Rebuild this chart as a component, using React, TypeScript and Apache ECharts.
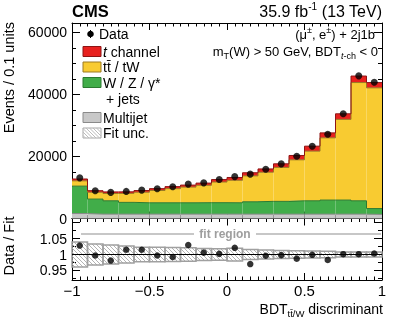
import React, { useEffect, useRef } from "react";
import * as echarts from "echarts";

const FONT = "'Liberation Sans', Arial, Helvetica, sans-serif";

// bin edges of BDT_tt/W discriminant
const binEdges = [-1, -0.9, -0.8, -0.7, -0.6, -0.5, -0.4, -0.3, -0.2, -0.1, 0, 0.1, 0.2, 0.3, 0.4, 0.5, 0.6, 0.7, 0.8, 0.9, 1];
const binCenters = [-0.95, -0.85, -0.75, -0.65, -0.55, -0.45, -0.35, -0.25, -0.15, -0.05, 0.05, 0.15, 0.25, 0.35, 0.45, 0.55, 0.65, 0.75, 0.85, 0.95];

// events / 0.1 units
const dataCounts = [13100, 8930, 8410, 8730, 9150, 9570, 10210, 11080, 11490, 12580, 13500, 14290, 15890, 17600, 20060, 23270, 27130, 33770, 45970, 43920];
const multijet = [1600, 1400, 1400, 1400, 1400, 1400, 1400, 1400, 1400, 1400, 1400, 1400, 1400, 1400, 1400, 1400, 1400, 1400, 1400, 1300];
const wzJets = [8830, 4860, 4310, 3800, 3670, 3670, 3670, 3670, 3700, 3700, 3670, 3990, 4120, 4120, 4310, 4310, 4540, 4540, 4310, 1900];
const ttbarTW = [1700, 2200, 2350, 2900, 3400, 3950, 4550, 5050, 5600, 6650, 7250, 8350, 9400, 10950, 13200, 16000, 20050, 26000, 38100, 38900];
const tChannel = [600, 500, 500, 500, 550, 600, 650, 650, 700, 800, 900, 1000, 1050, 1150, 1400, 1600, 1600, 1800, 2100, 1700];

// Data / Fit
const ratioValues = [1.028, 0.997, 0.981, 1.015, 1.015, 0.997, 0.992, 1.030, 1.006, 1.002, 1.021, 0.970, 0.996, 0.998, 0.987, 0.999, 0.983, 1.001, 1.001, 1.003];
const fitUncRel = [0.039, 0.033, 0.030, 0.027, 0.023, 0.023, 0.022, 0.021, 0.019, 0.018, 0.020, 0.016, 0.014, 0.0125, 0.012, 0.011, 0.010, 0.008, 0.008, 0.008];

const xTickLabels = ["−1", "−0.5", "0", "0.5", "1"];
const ratioMajorTicks = [0.95, 1, 1.05, 1.1];
const ratioLabelTicks = [0.95, 1, 1.05];
const ratioMinorTicks = [0.925, 0.975, 1.025, 1.075];

const layerNames = ["Multijet", "W / Z / γ* + jets", "tt̄ / tW", "t channel"];
const layerFill = ["#c8c8c8", "#41ad49", "#f8cb31", "#e8211f"];
const layerEdge = ["#8a8a8a", "#2b7a30", "#9c7b23", "#8e1414"];

function hatchLines(x0: number, y0: number, x1: number, y1: number, step: number, color: string) {
  const out: any[] = [];
  const cMin = x0 - y1;
  const cMax = x1 - y0;
  for (let c = Math.ceil(cMin / step) * step; c <= cMax; c += step) {
    const xa = Math.max(x0, y0 + c);
    const xb = Math.min(x1, y1 + c);
    if (xb > xa) {
      out.push({
        type: "line",
        shape: { x1: xa, y1: xa - c, x2: xb, y2: xb - c },
        style: { stroke: color, lineWidth: 1 },
        silent: true,
      });
    }
  }
  return out;
}

export default function App() {
  const ref = useRef<HTMLDivElement>(null);
  useEffect(() => {
    const chart = echarts.init(ref.current!, null, { renderer: "svg" });

    const layers = [multijet, wzJets, ttbarTW, tChannel];
    const cum: number[][] = [];
    layers.forEach((arr, k) => {
      cum.push(arr.map((v, i) => (k === 0 ? 0 : cum[k - 1][i]) + v));
    });

    const tickStyle = { color: "#000", width: 1 };
    const makeX = (gridIndex: number, position: string, labels: boolean) => ({
      type: "value",
      gridIndex,
      position,
      min: -1,
      max: 1,
      interval: 0.5,
      axisLine: { show: true, onZero: false, lineStyle: { color: "#000", width: 1 } },
      axisTick: { show: true, inside: true, length: 7, lineStyle: tickStyle },
      minorTick: { show: true, splitNumber: 10, length: 3.5, lineStyle: tickStyle },
      splitLine: { show: false },
      minorSplitLine: { show: false },
      axisLabel: {
        show: labels,
        fontSize: 15,
        fontFamily: FONT,
        color: "#000",
        margin: 3,
        showMinLabel: true,
        showMaxLabel: true,
        formatter: (v: number) => xTickLabels[Math.round((v + 1) / 0.5)],
      },
    });

    const makeMainY = (position: string, labels: boolean) => ({
      type: "value",
      gridIndex: 0,
      position,
      min: 0,
      max: 63000,
      interval: 20000,
      axisLine: { show: true, onZero: false, lineStyle: { color: "#000", width: 1 } },
      axisTick: { show: true, inside: true, length: 8, lineStyle: tickStyle },
      minorTick: { show: true, splitNumber: 4, length: 4, lineStyle: tickStyle },
      splitLine: { show: false },
      minorSplitLine: { show: false },
      axisLabel: {
        show: labels,
        fontSize: 14,
        fontFamily: FONT,
        color: "#000",
        margin: 5,
        formatter: (v: number) => String(v),
      },
    });

    const makeRatioY = (position: string, labels: boolean, minor: boolean) => ({
      type: "value",
      gridIndex: 1,
      position,
      min: 0.92,
      max: 1.113,
      axisLine: { show: !minor, onZero: false, lineStyle: { color: "#000", width: 1 } },
      axisTick: {
        show: true,
        inside: true,
        length: minor ? 4 : 8,
        customValues: minor ? ratioMinorTicks : ratioMajorTicks,
        lineStyle: tickStyle,
      },
      splitLine: { show: false },
      axisLabel: {
        show: labels,
        customValues: ratioLabelTicks,
        fontSize: 14,
        fontFamily: FONT,
        color: "#000",
        margin: 5,
        formatter: (v: number) => String(Math.round(v * 100) / 100),
      },
    });

    const series: any[] = [];
    layers.forEach((arr, k) => {
      series.push({
        type: "custom",
        name: layerNames[k],
        xAxisIndex: 0,
        yAxisIndex: 0,
        z: 1,
        silent: true,
        encode: { x: [0, 1], y: [2, 3] },
        data: arr.map((_, i) => [binEdges[i], binEdges[i + 1], k === 0 ? 0 : cum[k - 1][i], cum[k][i]]),
        renderItem: (_p: any, api: any) => {
          const a = api.coord([api.value(0), api.value(3)]);
          const b = api.coord([api.value(1), api.value(2)]);
          return {
            type: "rect",
            shape: { x: a[0], y: a[1], width: b[0] - a[0], height: b[1] - a[1] },
            style: { fill: layerFill[k], stroke: null },
          };
        },
      });
    });
    layers.forEach((_, k) => {
      const pts = cum[k].map((v, i) => [binEdges[i], v]);
      pts.push([binEdges[20], cum[k][19]]);
      series.push({
        type: "line",
        xAxisIndex: 0,
        yAxisIndex: 0,
        step: "end",
        symbol: "none",
        z: 2,
        silent: true,
        lineStyle: { color: layerEdge[k], width: 1 },
        data: pts,
      });
    });
    series.push({
      type: "scatter",
      name: "Data",
      xAxisIndex: 0,
      yAxisIndex: 0,
      symbol: "circle",
      symbolSize: 7,
      z: 5,
      itemStyle: { color: "#000" },
      data: binCenters.map((x, i) => [x, dataCounts[i]]),
    });

    // ratio panel
    series.push({
      type: "custom",
      name: "Fit unc.",
      xAxisIndex: 2,
      yAxisIndex: 2,
      z: 2,
      silent: true,
      encode: { x: [0, 1], y: [2, 3] },
      data: fitUncRel.map((u, i) => [binEdges[i], binEdges[i + 1], 1 - u, 1 + u]),
      renderItem: (_p: any, api: any) => {
        const a = api.coord([api.value(0), api.value(3)]);
        const b = api.coord([api.value(1), api.value(2)]);
        const children = hatchLines(a[0], a[1], b[0], b[1], 4, "#b3b3b3");
        children.push({
          type: "rect",
          shape: { x: a[0], y: a[1], width: b[0] - a[0], height: b[1] - a[1] },
          style: { fill: "none", stroke: "#a0a0a0", lineWidth: 1.5 },
        });
        return { type: "group", children };
      },
    });
    series.push({
      type: "line",
      xAxisIndex: 2,
      yAxisIndex: 2,
      symbol: "none",
      z: 3,
      silent: true,
      lineStyle: { color: "#000", width: 1 },
      data: [[-1, 1], [1, 1]],
    });
    series.push({
      type: "scatter",
      xAxisIndex: 2,
      yAxisIndex: 2,
      symbol: "circle",
      symbolSize: 6.5,
      z: 5,
      itemStyle: { color: "#000" },
      data: binCenters.map((x, i) => [x, ratioValues[i]]),
    });

    const txt = (x: number, y: number, text: string, extra: any = {}) => ({
      type: "text",
      x,
      y,
      silent: true,
      style: {
        text,
        fontSize: 14,
        fontFamily: FONT,
        fill: "#000",
        align: "left",
        verticalAlign: "middle",
        ...extra,
      },
    });

    const legendRows = [51.5, 67, 82.5, 117.5];
    const legendLayerOrder = [3, 2, 1, 0];
    const graphic: any[] = [];

    // header
    graphic.push(txt(72, 11, "CMS", { fontSize: 16.5, fontWeight: "bold" }));
    graphic.push(
      txt(382, 11, "35.9 fb{sup|-1} (13 TeV)", {
        fontSize: 16,
        align: "right",
        lineHeight: 20,
        rich: { sup: { fontSize: 10, fontFamily: FONT, lineHeight: 9, verticalAlign: "top" } },
      })
    );

    // legend
    graphic.push({
      type: "line",
      shape: { x1: 90.5, y1: 30, x2: 90.5, y2: 38 },
      style: { stroke: "#000", lineWidth: 1 },
      silent: true,
    });
    graphic.push({ type: "circle", shape: { cx: 90.5, cy: 34, r: 3.3 }, style: { fill: "#000" }, silent: true });
    graphic.push(txt(99, 34, "Data"));
    legendRows.forEach((y, r) => {
      const k = legendLayerOrder[r];
      graphic.push({
        type: "rect",
        shape: { x: 83, y: y - 5, width: 18, height: 10 },
        style: { fill: layerFill[k], stroke: layerEdge[k], lineWidth: 1 },
        silent: true,
      });
    });
    graphic.push(
      txt(103, legendRows[0], "{it|t} channel", {
        rich: { it: { fontStyle: "italic", fontSize: 14, fontFamily: FONT } },
      })
    );
    graphic.push(txt(103, legendRows[1], "tt\u0304 / tW"));
    graphic.push(txt(103, legendRows[2], "W / Z / γ*"));
    graphic.push(txt(106, 98.5, "+ jets"));
    graphic.push(txt(103, legendRows[3], "Multijet"));
    // fit unc. legend box
    graphic.push({
      type: "rect",
      shape: { x: 83, y: 128, width: 18, height: 10 },
      style: { fill: "#fff", stroke: "#a8a8a8", lineWidth: 1 },
      silent: true,
    });
    hatchLines(83, 128, 101, 138, 3.5, "#bcbcbc").forEach((l) => graphic.push(l));
    graphic.push(txt(103, 133, "Fit unc."));

    // right annotations
    graphic.push(
      txt(375, 34, "(μ{sup|±}, e{sup|±}) + 2j1b", {
        fontSize: 13,
        align: "right",
        lineHeight: 18,
        rich: { sup: { fontSize: 9, fontFamily: FONT, lineHeight: 9, verticalAlign: "top" } },
      })
    );
    graphic.push(
      txt(378, 51.5, "m{sub|T}(W) > 50 GeV, BDT{subi|t}{sub|-ch} < 0", {
        fontSize: 13,
        align: "right",
        lineHeight: 18,
        rich: {
          sub: { fontSize: 9, fontFamily: FONT, lineHeight: 9, verticalAlign: "bottom" },
          subi: { fontSize: 9, fontFamily: FONT, fontStyle: "italic", lineHeight: 9, verticalAlign: "bottom" },
        },
      })
    );

    // fit region marker
    graphic.push({ type: "line", shape: { x1: 81, y1: 234, x2: 194, y2: 234 }, style: { stroke: "#b4b4b4", lineWidth: 1.5 }, silent: true });
    graphic.push({ type: "line", shape: { x1: 256, y1: 234, x2: 381, y2: 234 }, style: { stroke: "#b4b4b4", lineWidth: 1.5 }, silent: true });
    graphic.push(txt(225, 234, "fit region", { fontSize: 12, fontWeight: "bold", fill: "#9e9e9e", align: "center" }));

    // axis titles
    graphic.push({
      type: "text",
      x: 9,
      y: 22,
      rotation: Math.PI / 2,
      silent: true,
      style: { text: "Events / 0.1 units", fontSize: 14.5, fontFamily: FONT, fill: "#000", align: "right", verticalAlign: "middle" },
    });
    graphic.push({
      type: "text",
      x: 9,
      y: 246,
      rotation: Math.PI / 2,
      silent: true,
      style: { text: "Data / Fit", fontSize: 14.5, fontFamily: FONT, fill: "#000", align: "center", verticalAlign: "middle" },
    });
    graphic.push(
      txt(383, 309, "BDT{sub|tt\u0304/W} discriminant", {
        fontSize: 14,
        align: "right",
        lineHeight: 18,
        rich: { sub: { fontSize: 9.5, fontFamily: FONT, lineHeight: 9, verticalAlign: "bottom" } },
      })
    );

    const option: any = {
      animation: false,
      grid: [
        { left: 72, top: 23, width: 310, height: 195.5 },
        { left: 72, top: 218.5, width: 310, height: 61.5 },
      ],
      xAxis: [makeX(0, "bottom", false), makeX(0, "top", false), makeX(1, "bottom", true), makeX(1, "top", false)],
      yAxis: [
        makeMainY("left", true),
        makeMainY("right", false),
        makeRatioY("left", true, false),
        makeRatioY("left", false, true),
        makeRatioY("right", false, false),
        makeRatioY("right", false, true),
      ],
      series,
      graphic,
    };
    chart.setOption(option);
    return () => chart.dispose();
  }, []);
  return <div ref={ref} style={{ position: "fixed", left: 0, top: 0, width: 399, height: 322 }} />;
}
